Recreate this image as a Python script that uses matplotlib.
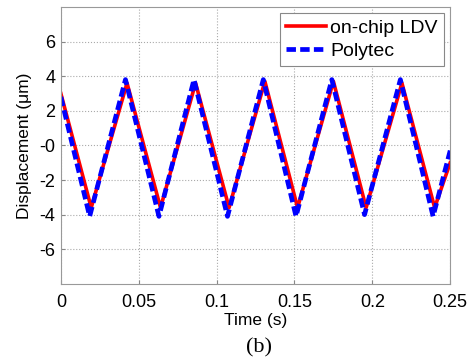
import matplotlib
matplotlib.use('Agg')
import matplotlib.pyplot as plt

# vertices of the measured triangle waves (time in s, displacement in um)
t_ldv = [0, 0.0195, 0.0425, 0.064, 0.0865, 0.108, 0.131, 0.152, 0.175, 0.196, 0.219, 0.240, 0.25]
d_ldv = [3.0, -3.6, 3.6, -3.6, 3.6, -3.6, 3.7, -3.6, 3.7, -3.6, 3.6, -3.6, -1.0]

t_poly = [0, 0.0185, 0.0415, 0.063, 0.0855, 0.107, 0.130, 0.151, 0.174, 0.195, 0.218, 0.239, 0.25]
d_poly = [2.8, -4.1, 3.8, -4.1, 3.8, -4.1, 3.8, -4.1, 3.8, -4.0, 3.8, -4.1, -0.3]

x_ticks = [0, 0.05, 0.1, 0.15, 0.2, 0.25]
x_labels = ['0', '0.05', '0.1', '0.15', '0.2', '0.25']
y_ticks = [-6, -4, -2, 0, 2, 4, 6]
y_labels = ['-6', '-4', '-2', '-0', '2', '4', '6']

plt.rcParams['font.family'] = ['Liberation Sans', 'DejaVu Sans']

fig = plt.figure(figsize=(4.68, 3.63), dpi=100)
ax = fig.add_axes([0.130, 0.218, 0.832, 0.763])

ax.plot(t_ldv, d_ldv, color='red', linewidth=2.6, label='on-chip LDV')
ax.plot(t_poly, d_poly, color='blue', linewidth=3.4, linestyle=(0, (2.0, 0.9)), label='Polytec')

ax.set_xlim(0, 0.25)
ax.set_ylim(-8, 8)
ax.set_xticks(x_ticks)
ax.set_xticklabels(x_labels)
ax.set_yticks(y_ticks)
ax.set_yticklabels(y_labels)
ax.tick_params(direction='in', length=3, labelsize=13, color='#888888')
ax.tick_params(axis='x', pad=7)
ax.tick_params(axis='y', pad=4)
ax.grid(True, linestyle=':', color='#aaaaaa', linewidth=0.8)
for s in ax.spines.values():
    s.set_color('#999999')

ax.set_xlabel('Time (s)', fontsize=12.5, labelpad=2)
ax.set_ylabel('Displacement (\u03bcm)', fontsize=12.5, labelpad=5)

leg = ax.legend(loc='upper right', fontsize=14, fancybox=False, framealpha=1,
                edgecolor='#888888', handlelength=2.05, borderaxespad=0.3,
                borderpad=0.35, labelspacing=0.25, handletextpad=0.2)
leg.get_frame().set_linewidth(0.8)

fig.text(0.553, 0.042, '(b)', fontsize=16, family='Liberation Serif', ha='center', va='center')

fig.savefig('out.png', dpi=100)
